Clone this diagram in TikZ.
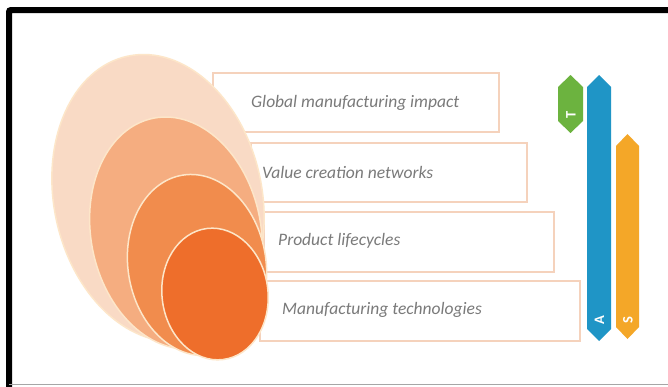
\documentclass[tikz,border=0pt]{standalone}
\usepackage{fontspec}
\setmainfont{Carlito}
\setsansfont{Carlito}
\definecolor{eA}{HTML}{F9DAC5}
\definecolor{eB}{HTML}{F5AD80}
\definecolor{eC}{HTML}{F18C4D}
\definecolor{eD}{HTML}{EE6E2B}
\definecolor{erim}{HTML}{FDE6C9}
\definecolor{boxrim}{HTML}{F5D2BC}
\definecolor{txt}{HTML}{7A7A7A}
\definecolor{tgreen}{HTML}{6CB33F}
\definecolor{ablue}{HTML}{1F95C6}
\definecolor{sorange}{HTML}{F4A728}
\tikzset{
  tbox/.style={draw=boxrim, fill=white, line width=1.2pt},
  ell/.style={draw=erim, line width=1.5pt},
  lbl/.style={anchor=west, inner sep=0pt, text=txt, font=\fontsize{17.5}{20}\selectfont\itshape},
  barlbl/.style={inner sep=0pt, text=white, rotate=90, font=\fontsize{14.5}{16}\selectfont\bfseries},
}
\begin{document}
\begin{tikzpicture}[x=1pt, y=-1pt]
\useasboundingbox (0,0) rectangle (668,386);
\fill[white] (0,0) rectangle (668,386);
% frame
\draw[black, line width=6pt, rounded corners=2pt] (9,390) -- (9,10) -- (672,10);
\draw[gray!70, line width=1.5pt] (9,384.5) -- (668,384.5);
% text boxes
\draw[tbox] (213,73) rectangle (499,132);
\draw[tbox] (251,143) rectangle (527,202);
\draw[tbox] (264,212) rectangle (554,272);
\draw[tbox] (260,281) rectangle (580,341);
% ellipses
\draw[ell, fill=eA, rotate around={12:(158,198)}] (158,198) ellipse [x radius=104, y radius=145];
\draw[ell, fill=eB, rotate around={11:(176,233)}] (176,233) ellipse [x radius=85, y radius=117];
\draw[ell, fill=eC, rotate around={9:(197,265)}] (197,265) ellipse [x radius=69, y radius=91];
\draw[ell, fill=eD, rotate around={7:(215,294)}] (215,294) ellipse [x radius=53, y radius=66];
% labels
\node[lbl] (l1) at (251,103) {Global manufacturing impact};
\node[lbl] (l2) at (262,172) {Value creation networks};
\node[lbl] (l3) at (278,241) {Product lifecycles};
\node[lbl] (l4) at (282,310) {Manufacturing technologies};
% bars
\fill[tgreen] (570.5,75) -- (583,87) -- (583,121) -- (570.5,133) -- (558,121) -- (558,87) -- cycle;
\fill[ablue] (599,75) -- (611,87) -- (611,329) -- (599,341) -- (587,329) -- (587,87) -- cycle;
\fill[sorange] (627.5,134) -- (639,146) -- (639,327) -- (627.5,339) -- (616,327) -- (616,146) -- cycle;
\node[barlbl] (t) at (571,115) {T};
\node[barlbl] (a) at (599.5,320) {A};
\node[barlbl] (s) at (628,320) {S};
\end{tikzpicture}
\end{document}
